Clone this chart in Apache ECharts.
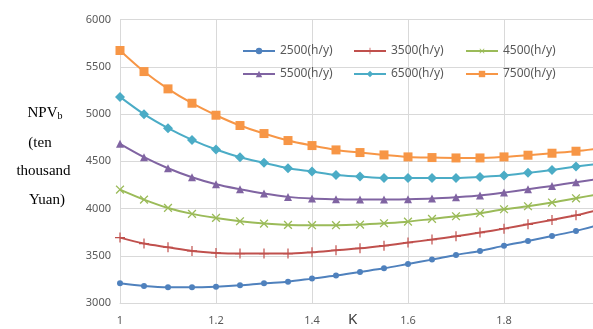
<!DOCTYPE html>
<html>
<head>
<meta charset="utf-8">
<script src="https://cdn.jsdelivr.net/npm/echarts@6/dist/echarts.min.js"></script>
<style>
  html, body { margin: 0; padding: 0; background: #fff; }
  #chart { width: 593px; height: 329px; }
</style>
</head>
<body>
<div id="chart"></div>
<script>
// K values 1.00 .. 2.00 step 0.05
var kValues = [1.00, 1.05, 1.10, 1.15, 1.20, 1.25, 1.30, 1.35, 1.40, 1.45, 1.50,
  1.55, 1.60, 1.65, 1.70, 1.75, 1.80, 1.85, 1.90, 1.95, 2.00]

var seriesNames = ['2500(h/y)', '3500(h/y)', '4500(h/y)', '5500(h/y)', '6500(h/y)', '7500(h/y)']

// NPVb (ten thousand Yuan)
var npv2500 = [3209, 3180, 3166, 3166, 3173, 3187, 3209, 3226, 3258, 3290, 3329,
  3367, 3413, 3459, 3509, 3551, 3607, 3657, 3710, 3763, 3830]
var npv3500 = [3692, 3629, 3590, 3551, 3530, 3523, 3523, 3523, 3537, 3558, 3579,
  3607, 3639, 3671, 3706, 3745, 3787, 3833, 3879, 3928, 3990]
var npv4500 = [4200, 4094, 4006, 3943, 3900, 3865, 3840, 3826, 3823, 3823, 3830,
  3844, 3861, 3890, 3918, 3950, 3992, 4024, 4063, 4108, 4155]
var npv5500 = [4684, 4543, 4426, 4331, 4257, 4204, 4158, 4123, 4105, 4098, 4094,
  4094, 4098, 4105, 4119, 4137, 4168, 4204, 4239, 4278, 4315]
var npv6500 = [5181, 4998, 4850, 4726, 4624, 4543, 4483, 4426, 4391, 4355, 4338,
  4324, 4324, 4324, 4324, 4334, 4348, 4377, 4408, 4444, 4475]
var npv7500 = [5672, 5449, 5266, 5114, 4987, 4878, 4793, 4719, 4666, 4620, 4592,
  4567, 4546, 4539, 4535, 4535, 4546, 4564, 4585, 4606, 4635]

var yTicks = [3000, 3500, 4000, 4500, 5000, 5500, 6000]

var allData = [npv2500, npv3500, npv4500, npv5500, npv6500, npv7500]
var colors = ['#4F81BD', '#C0504D', '#9BBB59', '#8064A2', '#4BACC6', '#F79646']

var plusPath = 'path://M4.4,0h1.2v4.4h4.4v1.2h-4.4v4.4h-1.2v-4.4h-4.4v-1.2h4.4z'
var symbols = ['circle', plusPath, plusPath, 'triangle', 'diamond', 'rect']
var symbolSizes = [6, 10, 11, 8, 10, 9]
var symbolRotates = [0, 0, 45, 0, 0, 0]

// legend positions (two rows of three)
var legendLeft = [237, 348, 460, 237, 348, 460]
var legendTop = [40, 40, 40, 63, 63, 63]

var myChart = echarts.init(document.getElementById('chart'))

var series = seriesNames.map(function (name, i) {
  return {
    name: name,
    type: 'line',
    smooth: 0.3,
    data: kValues.map(function (k, j) { return [k, allData[i][j]] }),
    symbol: symbols[i],
    symbolSize: symbolSizes[i],
    symbolRotate: symbolRotates[i],
    showAllSymbol: true,
    lineStyle: { width: 2, color: colors[i] },
    itemStyle: { color: colors[i] },
    z: 2 + i
  }
})

var legends = seriesNames.map(function (name, i) {
  return {
    data: [name],
    left: legendLeft[i],
    top: legendTop[i],
    itemWidth: 32,
    itemHeight: 8,
    itemGap: 4,
    textStyle: { color: '#595959', fontSize: 12, fontFamily: 'Noto Sans' }
  }
})

myChart.setOption({
  animation: false,
  backgroundColor: '#fff',
  color: colors,
  legend: legends,
  grid: { left: 120, right: -7, top: 19.5, bottom: 26, outerBoundsMode: 'none' },
  xAxis: {
    type: 'value',
    min: 1,
    max: 2,
    interval: 0.2,
    axisLine: { show: true, lineStyle: { color: '#d9d9d9', width: 1 } },
    axisTick: { show: false },
    axisLabel: { color: '#595959', fontSize: 11, margin: 12, fontFamily: 'Noto Sans' },
    splitLine: { show: true, lineStyle: { color: '#d9d9d9', width: 1 } }
  },
  yAxis: {
    type: 'value',
    min: yTicks[0],
    max: yTicks[yTicks.length - 1],
    interval: 500,
    axisLine: { show: true, lineStyle: { color: '#d9d9d9', width: 1 } },
    axisTick: { show: false },
    axisLabel: {
      color: '#595959', fontSize: 11, margin: 9, fontFamily: 'Noto Sans',
      formatter: function (v) { return String(v) }
    },
    splitLine: { show: true, lineStyle: { color: '#d9d9d9', width: 1 } }
  },
  graphic: [
    {
      type: 'text', left: 348, top: 312,
      style: { text: 'K', fill: '#404040', font: '15px "Noto Sans"' }
    },
    {
      type: 'text', x: 45, y: 113,
      style: {
        text: '{a|NPV}{b|b}', align: 'center', verticalAlign: 'middle',
        rich: {
          a: { fontSize: 15, fontFamily: 'Liberation Serif', fill: '#000' },
          b: { fontSize: 10, fontFamily: 'Liberation Serif', fill: '#000', padding: [6, 0, 0, 0] }
        }
      }
    },
    {
      type: 'text', x: 40, y: 143,
      style: { text: '(ten', fill: '#000', font: '15px "Liberation Serif"', align: 'center', verticalAlign: 'middle' }
    },
    {
      type: 'text', x: 43.5, y: 171,
      style: { text: 'thousand', fill: '#000', font: '15px "Liberation Serif"', align: 'center', verticalAlign: 'middle' }
    },
    {
      type: 'text', x: 47, y: 200,
      style: { text: 'Yuan)', fill: '#000', font: '15px "Liberation Serif"', align: 'center', verticalAlign: 'middle' }
    }
  ],
  series: series
})
</script>
</body>
</html>
